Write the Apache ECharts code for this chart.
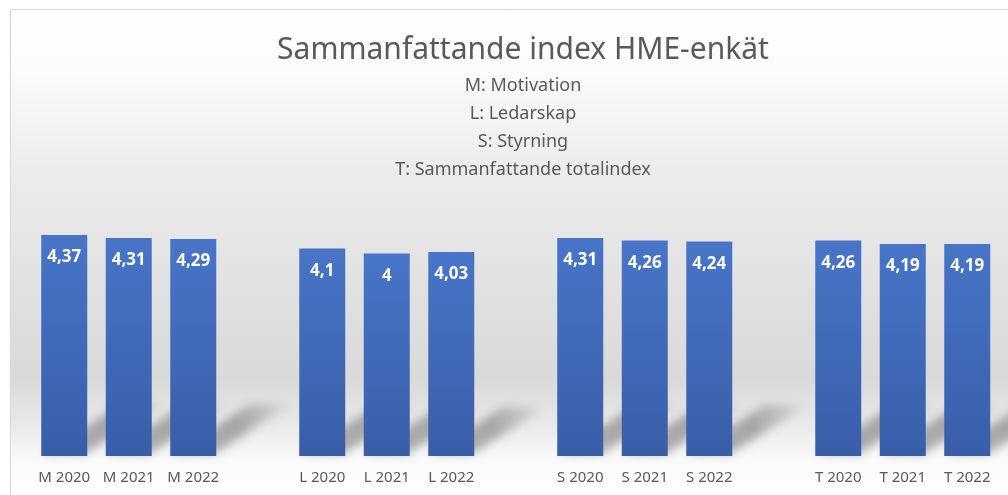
<!DOCTYPE html>
<html>
<head>
<meta charset="utf-8">
<script src="https://cdn.jsdelivr.net/npm/echarts@6/dist/echarts.min.js"></script>
<style>
html,body{margin:0;padding:0;background:#fff;}
#chart{width:1008px;height:495px;}
</style>
</head>
<body>
<div id="chart"></div>
<script>
var categories = ['M 2020','M 2021','M 2022','','L 2020','L 2021','L 2022','','S 2020','S 2021','S 2022','','T 2020','T 2021','T 2022'];
var values = [4.37, 4.31, 4.29, null, 4.1, 4.0, 4.03, null, 4.31, 4.26, 4.24, null, 4.26, 4.19, 4.19];
var titleText = 'Sammanfattande index HME-enkät';
var subtitleLines = ['M: Motivation', 'L: Ledarskap', 'S: Styrning', 'T: Sammanfattande totalindex'];

var shadowData = values.map(function (v, i) { return [i, v]; });

var chart = echarts.init(document.getElementById('chart'), null, {renderer: 'canvas'});
var OFF = 3000;
var option = {
  backgroundColor: '#ffffff',
  animation: false,
  graphic: [{
    type: 'rect',
    z: 0,
    silent: true,
    shape: {x: 10.5, y: 9.5, width: 1010, height: 500},
    style: {
      stroke: '#d9d9d9',
      lineWidth: 1,
      fill: new echarts.graphic.LinearGradient(0, 0, 0, 1, [
        {offset: 0, color: '#ffffff'},
        {offset: 0.12, color: '#fbfbfb'},
        {offset: 0.32, color: '#ececec'},
        {offset: 0.55, color: '#e1e1e1'},
        {offset: 0.74, color: '#d9d9d9'},
        {offset: 0.83, color: '#e9e9e9'},
        {offset: 0.9, color: '#fafafa'},
        {offset: 1, color: '#ffffff'}
      ])
    }
  }],
  title: [{
    text: titleText,
    left: 518,
    top: 30,
    textAlign: 'center',
    textStyle: {fontFamily: 'Noto Sans', fontSize: 30, fontWeight: 'normal', color: '#595959'}
  }, {
    text: subtitleLines.join('\n'),
    left: 518,
    top: 67,
    textAlign: 'center',
    textStyle: {fontFamily: 'Noto Sans', fontSize: 18, fontWeight: 'normal', color: '#595959', lineHeight: 28}
  }],
  grid: {left: 32, right: 8.5, top: 203, bottom: 39},
  xAxis: {
    type: 'category',
    data: categories,
    axisLine: {show: false},
    axisTick: {show: false},
    axisLabel: {
      interval: 0,
      margin: 14,
      fontFamily: 'Noto Sans',
      fontSize: 15,
      color: '#595959'
    }
  },
  yAxis: {
    type: 'value',
    min: 0,
    max: 5,
    show: false,
    splitLine: {show: false}
  },
  series: [{
    type: 'custom',
    z: 1,
    silent: true,
    clip: false,
    data: shadowData,
    encode: {x: 0, y: 1},
    renderItem: function (params, api) {
      var v = api.value(1);
      if (v == null || isNaN(v)) return null;
      var idx = api.value(0);
      var p0 = api.coord([idx, 0]);
      var p1 = api.coord([idx, v]);
      var h = p0[1] - p1[1];
      var hw = 21;
      var dx = 0.36 * h, dy = 0.23 * h;
      var x = p0[0] + OFF, b = p0[1] - 2;
      return {
        type: 'polygon',
        shape: {points: [[x - hw, b], [x + hw, b], [x + hw + dx, b - dy], [x - hw + dx, b - dy]]},
        style: {
          fill: new echarts.graphic.LinearGradient(0, 1, 1, 0, [
            {offset: 0, color: 'rgba(0,0,0,1)'},
            {offset: 0.55, color: 'rgba(0,0,0,0.95)'},
            {offset: 1, color: 'rgba(0,0,0,0.1)'}
          ]),
          shadowBlur: 10,
          shadowOffsetX: -OFF,
          shadowOffsetY: 0,
          shadowColor: 'rgba(0,0,0,0.3)'
        }
      };
    }
  }, {
    type: 'bar',
    z: 3,
    data: values,
    barWidth: 46,
    itemStyle: {
      color: new echarts.graphic.LinearGradient(0, 0, 0, 1, [
        {offset: 0, color: '#4875c8'},
        {offset: 1, color: '#385ea8'}
      ])
    },
    label: {
      show: true,
      position: 'insideTop',
      distance: 14,
      fontFamily: 'Noto Sans',
      fontSize: 17,
      fontWeight: 'bold',
      color: '#ffffff',
      formatter: function (p) { return String(p.value).replace('.', ','); }
    }
  }]
};
chart.setOption(option);
</script>
</body>
</html>
